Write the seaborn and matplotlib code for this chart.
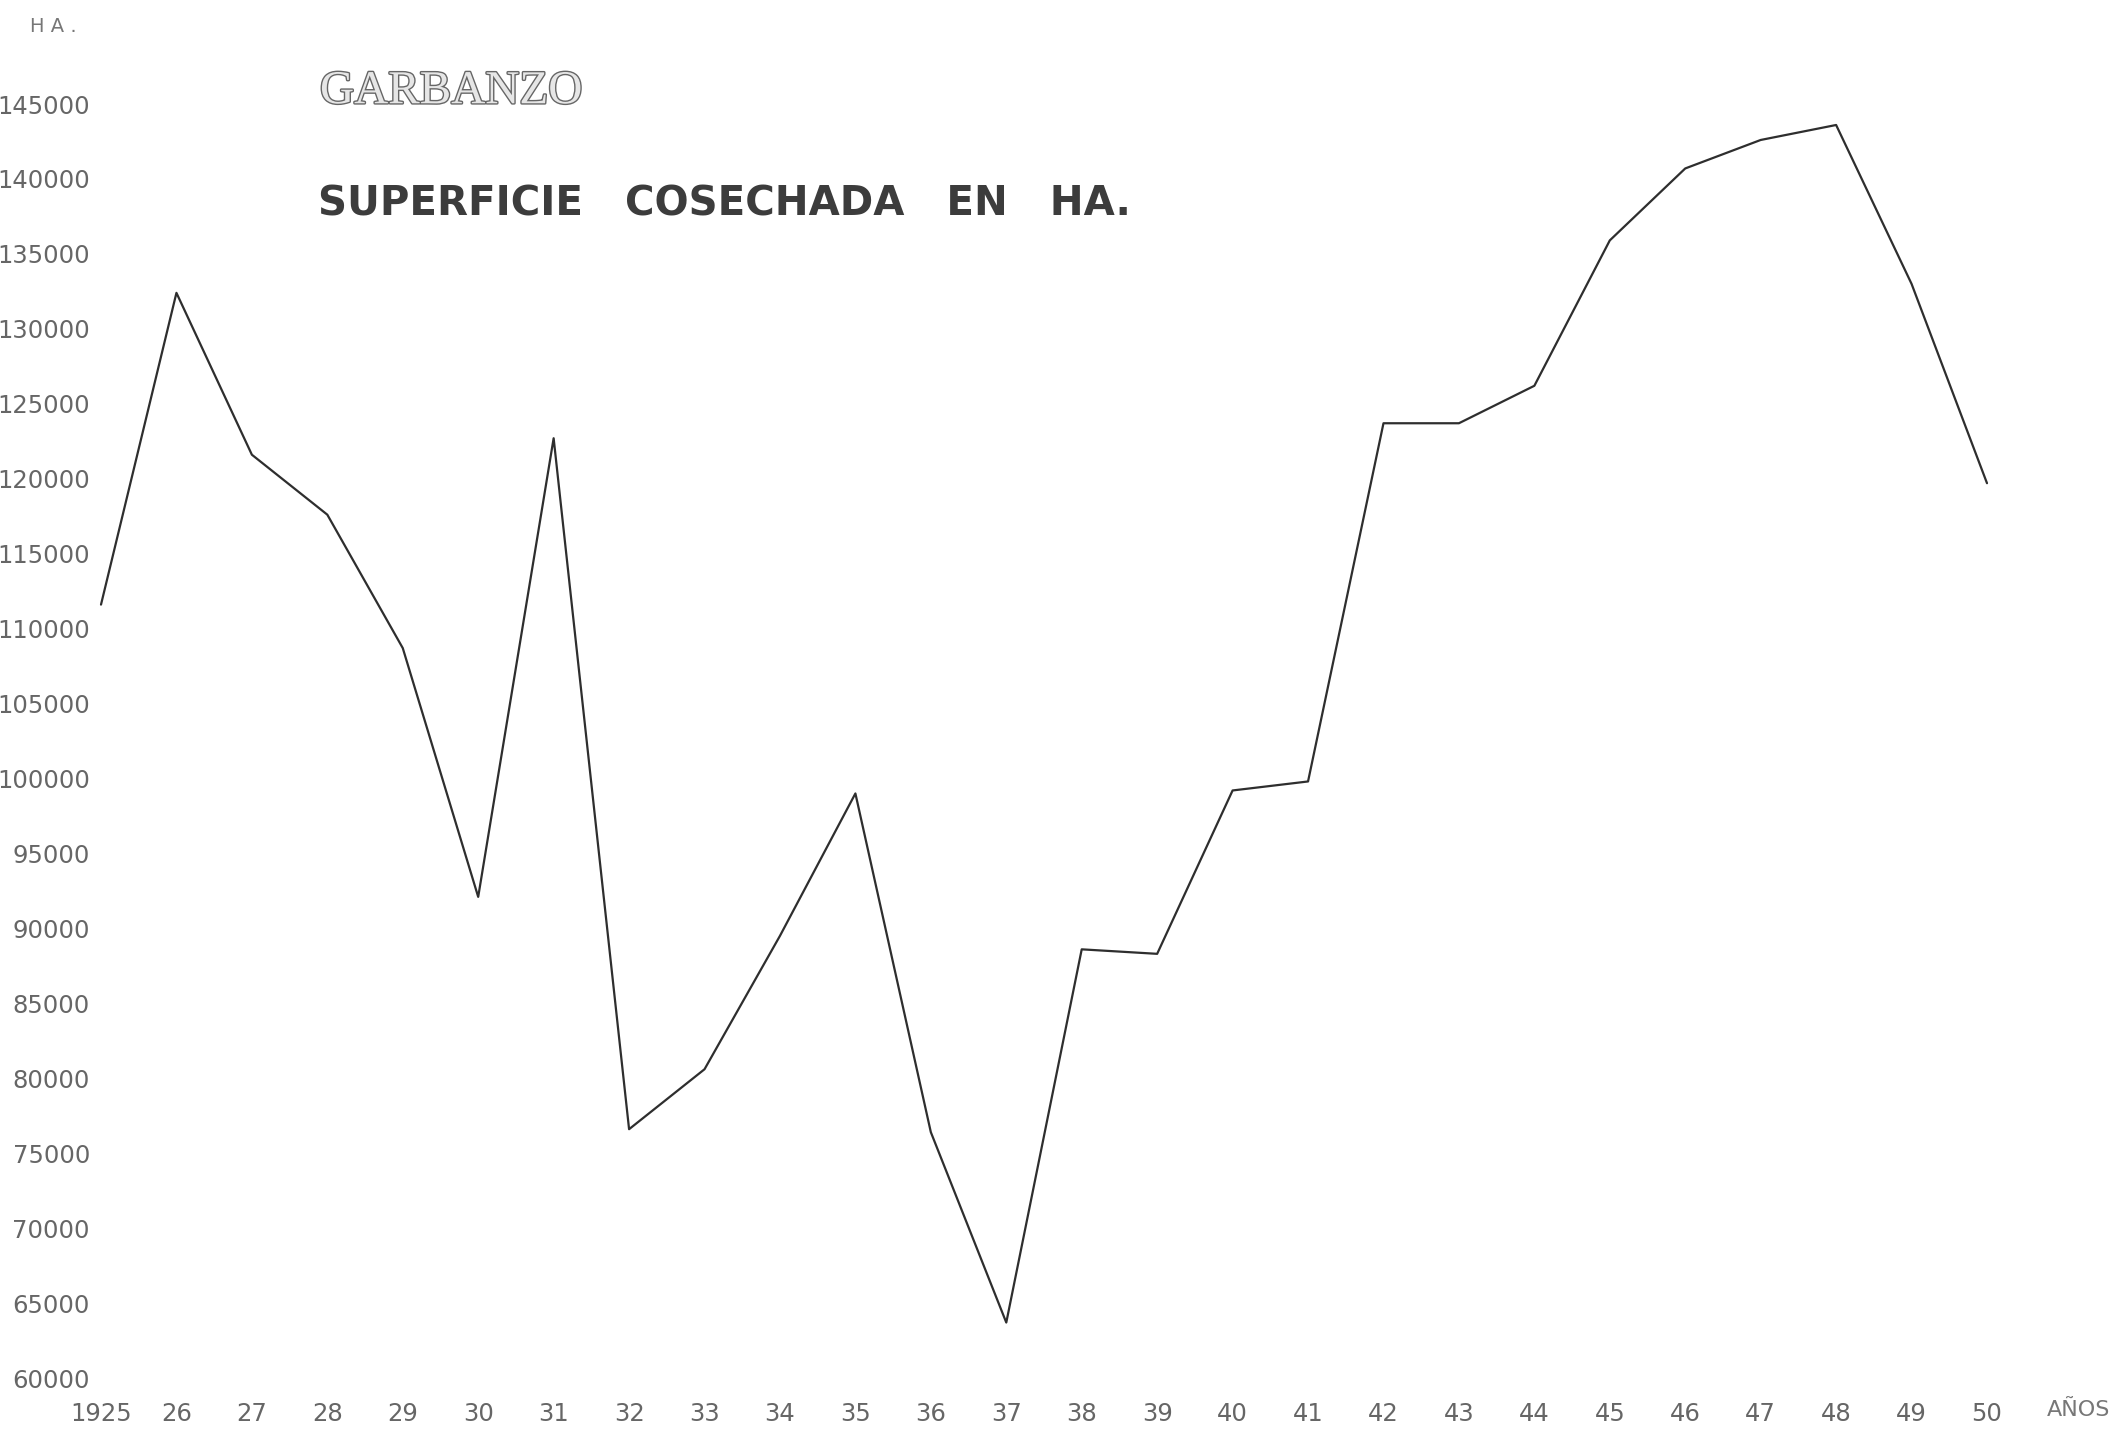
import matplotlib
matplotlib.use("Agg")
import matplotlib.pyplot as plt
import matplotlib.patheffects as pe
import pandas as pd
import seaborn as sns


YEARS = [1925, 1926, 1927, 1928, 1929, 1930, 1931, 1932, 1933, 1934, 1935, 1936, 1937,
         1938, 1939, 1940, 1941, 1942, 1943, 1944, 1945, 1946, 1947, 1948, 1949, 1950]

HECTARES = [111600, 132400, 121600, 117600, 108700, 92100, 122700, 76600, 80600, 89500,
            99000, 76400, 63700, 88600, 88300, 99200, 99800, 123700, 123700, 126200,
            135900, 140700, 142600, 143600, 133000, 119700]

YEAR_LABELS = ["1925", "26", "27", "28", "29", "30", "31", "32", "33", "34", "35", "36", "37",
               "38", "39", "40", "41", "42", "43", "44", "45", "46", "47", "48", "49", "50"]

Y_TICKS = [60000, 65000, 70000, 75000, 80000, 85000, 90000, 95000, 100000, 105000,
           110000, 115000, 120000, 125000, 130000, 135000, 140000, 145000]

W, H = 2119, 1434


def make_chart():

    sns.set_style("white")
    plt.rcParams["font.family"] = ["DejaVu Sans"]

    df = pd.DataFrame({"year": YEARS, "ha": HECTARES})

    fig = plt.figure(figsize=(W / 100, H / 100), dpi=100)
    fig.patch.set_facecolor("white")

    left, right = 101, 1987
    top, bottom = 104, 1378
    ax = fig.add_axes([left / W, 1 - bottom / H, (right - left) / W, (bottom - top) / H])

    sns.lineplot(data=df, x="year", y="ha", ax=ax, color="#2e2e2e", linewidth=1.6)
    for line in ax.lines:
        line.set_clip_on(False)

    ax.set_xlim(1925, 1950)
    ax.set_ylim(60000, 145000)

    ax.set_xticks(YEARS)
    ax.set_xticklabels(YEAR_LABELS)
    ax.set_yticks(Y_TICKS)
    ax.set_yticklabels([str(v) for v in Y_TICKS])

    ax.tick_params(axis="x", length=0, pad=17, labelsize=17.5, labelcolor="#666666")
    ax.tick_params(axis="y", length=0, pad=8, labelsize=17.5, labelcolor="#666666")

    ax.set_xlabel("")
    ax.set_ylabel("")
    sns.despine(ax=ax, left=True, bottom=True)
    ax.grid(False)

    # headings
    fig.text(30 / W, 1 - 27 / H, "H A .", fontsize=14, color="#777777", va="center")

    fig.text(320 / W, 1 - 92 / H, "GARBANZO", fontsize=34, family="Liberation Serif",
             color="#e6e6e6", va="center",
             path_effects=[pe.Stroke(linewidth=2, foreground="#666666"), pe.Normal()])

    fig.text(318 / W, 1 - 204 / H, "SUPERFICIE   COSECHADA   EN   HA.", fontsize=29,
             fontweight="bold", color="#3c3c3c", va="center")

    fig.text(2047 / W, 1 - 1410 / H, "AÑOS", fontsize=16, color="#777777", va="center")

    fig.savefig("out.png", dpi=100, facecolor="white")
    plt.close(fig)


if __name__ == "__main__":
    make_chart()
